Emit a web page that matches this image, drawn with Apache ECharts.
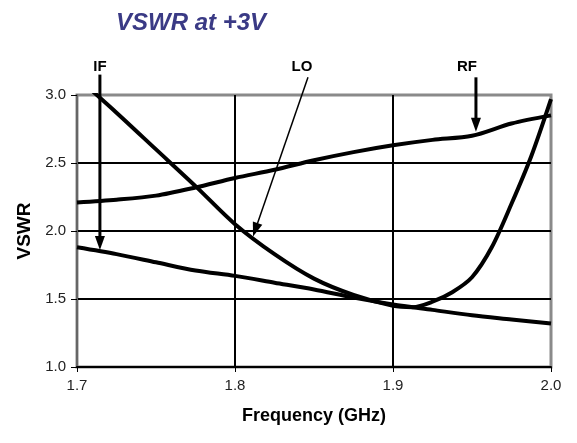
<!DOCTYPE html>
<html lang="en">
<head>
    <meta charset="UTF-8">
    <title>VSWR at +3V</title>
    <script src="https://cdn.jsdelivr.net/npm/echarts@6/dist/echarts.min.js"></script>
    <style>
        body { margin: 0; padding: 0; background: #fff; }
        #main { width: 577px; height: 443px; }
    </style>
</head>
<body>
<div id="main"></div>
<script>
    // frequency points (GHz)
    const freq = [1.70, 1.725, 1.75, 1.775, 1.80, 1.825, 1.85, 1.875, 1.90, 1.925, 1.95, 1.975, 2.00];
    const ifVswr = [1.88, 1.83, 1.77, 1.71, 1.67, 1.62, 1.57, 1.51, 1.46, 1.42, 1.38, 1.35, 1.32];
    const rfVswr = [2.21, 2.23, 2.26, 2.32, 2.39, 2.45, 2.52, 2.58, 2.63, 2.67, 2.70, 2.79, 2.85];

    // LO has a sharper dip, so it gets a denser frequency grid
    const loFreq = [1.70, 1.725, 1.75, 1.775, 1.80, 1.825, 1.85, 1.875, 1.90, 1.9125, 1.925, 1.9375, 1.95, 1.9625, 1.975, 1.9875, 2.00];
    const loVswr = [3.13, 2.87, 2.60, 2.33, 2.05, 1.83, 1.65, 1.53, 1.45, 1.44, 1.48, 1.55, 1.66, 1.88, 2.20, 2.55, 2.97];

    // callouts: label anchor, arrow start, arrow tip (data units)
    const calloutNames = ['IF', 'LO', 'RF'];
    const calloutLabel = [[1.7145, 3.21], [1.8424, 3.21], [1.9468, 3.21]];
    const calloutFrom = [[1.7145, 3.15], [1.8462, 3.13], [1.9525, 3.13]];
    const calloutTo = [[1.7145, 1.86], [1.8114, 1.96], [1.9525, 2.73]];
    const calloutWidth = [3, 1.5, 3];

    function pairs(xs, ys) {
        return xs.map((x, i) => [x, ys[i]]);
    }

    const myChart = echarts.init(document.getElementById('main'));
    const fontFamily = '"Liberation Sans", Arial, sans-serif';

    function lineSeries(name, data) {
        return {
            name: name,
            type: 'line',
            data: data,
            smooth: 0.3,
            symbol: 'none',
            clip: true,
            lineStyle: { color: '#000', width: 4 }
        };
    }

    const option = {
        backgroundColor: '#fff',
        animation: false,
        title: {
            text: 'VSWR at +3V',
            left: 111,
            top: 6,
            textStyle: {
                color: '#3a3a85',
                fontSize: 24,
                fontWeight: 'bold',
                fontStyle: 'italic',
                fontFamily: fontFamily
            }
        },
        grid: {
            left: 77,
            right: 26,
            top: 95,
            bottom: 76,
            show: true,
            borderColor: '#8a8a8a',
            borderWidth: 3,
            backgroundColor: 'transparent'
        },
        xAxis: {
            type: 'value',
            min: 1.7,
            max: 2.0,
            interval: 0.1,
            name: 'Frequency (GHz)',
            nameLocation: 'middle',
            nameGap: 40,
            nameTextStyle: { color: '#000', fontSize: 18, fontWeight: 'bold', fontFamily: fontFamily },
            axisLine: { show: true, lineStyle: { color: '#000', width: 2 } },
            axisTick: { show: true, length: 5, lineStyle: { color: '#000', width: 1 } },
            axisLabel: {
                color: '#222',
                fontSize: 15,
                fontFamily: fontFamily,
                margin: 11,
                formatter: v => v.toFixed(1)
            },
            splitLine: { show: true, showMinLine: false, showMaxLine: false, lineStyle: { color: '#000', width: 2 } }
        },
        yAxis: {
            type: 'value',
            min: 1.0,
            max: 3.0,
            interval: 0.5,
            name: 'VSWR',
            nameLocation: 'middle',
            nameGap: 42,
            nameTextStyle: { color: '#000', fontSize: 19, fontWeight: 'bold', fontFamily: fontFamily },
            axisLine: { show: true, lineStyle: { color: '#666', width: 2 } },
            axisTick: { show: true, length: 6, lineStyle: { color: '#000', width: 1 } },
            axisLabel: {
                color: '#222',
                fontSize: 15,
                fontFamily: fontFamily,
                margin: 11,
                formatter: v => v.toFixed(1)
            },
            splitLine: { show: true, showMinLine: false, showMaxLine: false, lineStyle: { color: '#000', width: 2 } }
        },
        series: [
            lineSeries('IF', pairs(freq, ifVswr)),
            lineSeries('RF', pairs(freq, rfVswr)),
            lineSeries('LO', pairs(loFreq, loVswr))
        ]
    };

    myChart.setOption(option);

    // callout labels and arrows, placed through the axes
    const graphics = [];
    calloutNames.forEach((name, i) => {
        const lab = myChart.convertToPixel({ gridIndex: 0 }, calloutLabel[i]);
        const p0 = myChart.convertToPixel({ gridIndex: 0 }, calloutFrom[i]);
        const p1 = myChart.convertToPixel({ gridIndex: 0 }, calloutTo[i]);
        const dx = p1[0] - p0[0];
        const dy = p1[1] - p0[1];
        const len = Math.sqrt(dx * dx + dy * dy);
        const ux = dx / len, uy = dy / len;
        const headLen = 14, headHalf = 5;
        const bx = p1[0] - ux * headLen, by = p1[1] - uy * headLen;
        graphics.push({
            type: 'text',
            x: lab[0],
            y: lab[1],
            style: {
                text: name,
                fill: '#000',
                font: 'bold 15px ' + fontFamily,
                textAlign: 'center',
                textVerticalAlign: 'middle'
            },
            z: 10
        });
        graphics.push({
            type: 'line',
            shape: { x1: p0[0], y1: p0[1], x2: bx + ux * 2, y2: by + uy * 2 },
            style: { stroke: '#000', lineWidth: calloutWidth[i] },
            z: 10
        });
        graphics.push({
            type: 'polygon',
            shape: {
                points: [
                    [p1[0], p1[1]],
                    [bx - uy * headHalf, by + ux * headHalf],
                    [bx + uy * headHalf, by - ux * headHalf]
                ]
            },
            style: { fill: '#000' },
            z: 10
        });
    });
    myChart.setOption({ graphic: graphics });
</script>
</body>
</html>
